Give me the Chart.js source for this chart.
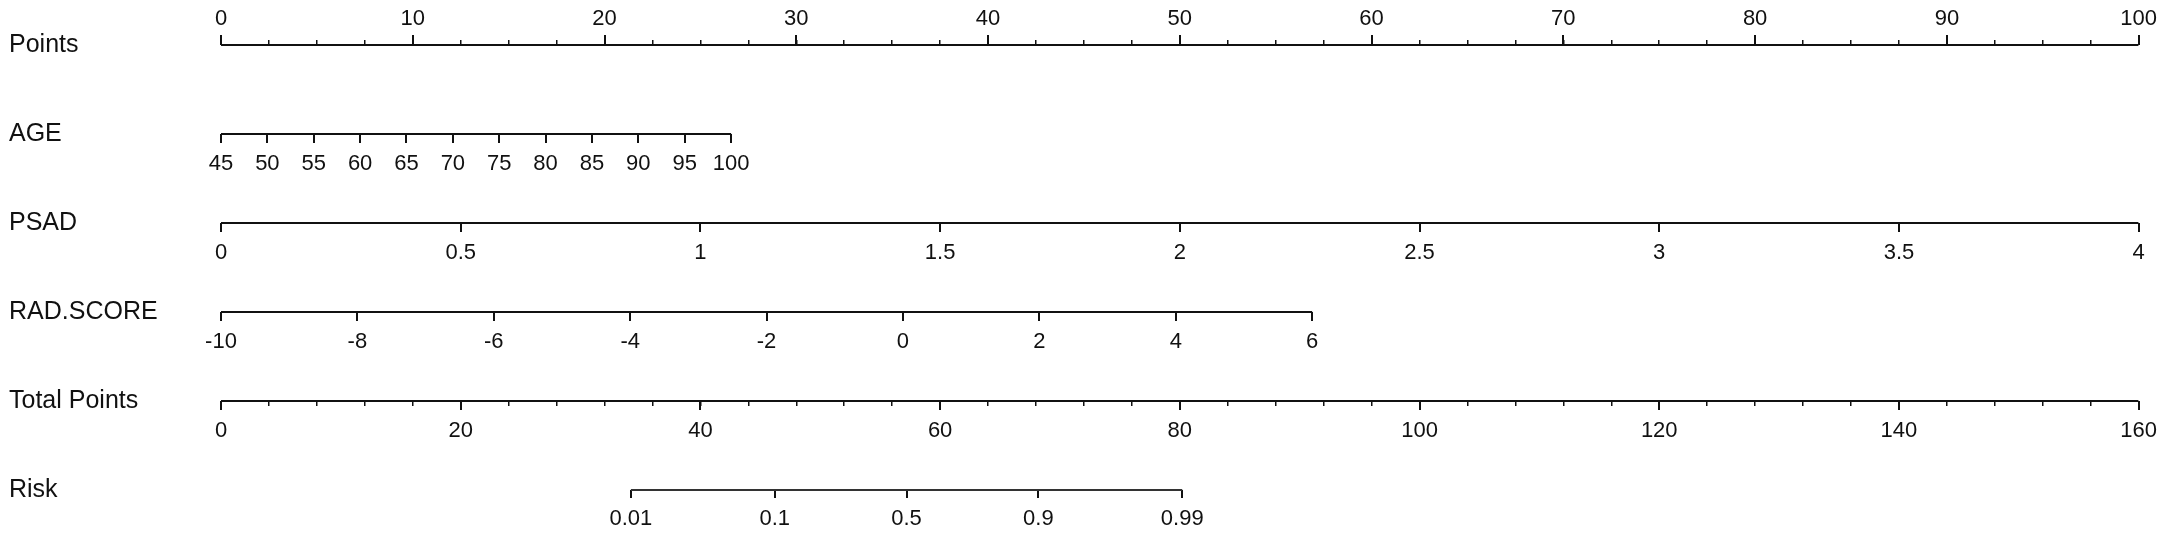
<!DOCTYPE html>
<html>
<head>
<meta charset="utf-8">
<script src="https://cdn.jsdelivr.net/npm/chart.js@4.4.1/dist/chart.umd.min.js"></script>
<style>
  html, body { margin: 0; padding: 0; background: #fff; }
  #wrap { width: 2165px; height: 537px; }
</style>
</head>
<body>
<div id="wrap"><canvas id="nomogram"></canvas></div>
<script>
const rowLabels = ['Points', 'AGE', 'PSAD', 'RAD.SCORE', 'Total Points', 'Risk'];

const pointsTicks = [0, 10, 20, 30, 40, 50, 60, 70, 80, 90, 100];
const ageTicks = [45, 50, 55, 60, 65, 70, 75, 80, 85, 90, 95, 100];
const psadTicks = [0, 0.5, 1, 1.5, 2, 2.5, 3, 3.5, 4];
const radTicks = [-10, -8, -6, -4, -2, 0, 2, 4, 6];
const totalTicks = [0, 20, 40, 60, 80, 100, 120, 140, 160];
const riskLabels = ['0.01', '0.1', '0.5', '0.9', '0.99'];
const riskTotalPoints = [34.2, 46.2, 57.2, 68.2, 80.2];

// points given to the top value of each predictor
const agePointsMax = 26.6;   // AGE 100
const psadPointsMax = 100;   // PSAD 4
const radPointsMax = 56.9;   // RAD.SCORE 6

const ink = '#111';
const family = "'Liberation Sans', Arial, sans-serif";

// small unlabeled ticks
const pointsMinor = [];
for (let v = 0; v <= 100; v += 2.5) pointsMinor.push(v);
const totalMinor = [];
for (let v = 0; v <= 160; v += 4) totalMinor.push(v);

// value that would sit at 100 points, so each row lines up with the Points scale
function axisMax(lo, hi, pts) {
  return lo + (hi - lo) * 100 / pts;
}

function rowAxis(row, min, max, ticks, opts = {}) {
  return {
    type: 'linear',
    axis: 'x',
    position: { y: row },
    min: min,
    max: max,
    afterBuildTicks: s => { s.ticks = ticks.map(v => ({ value: v })); },
    grid: {
      drawOnChartArea: false,
      drawTicks: true,
      tickLength: opts.tickLength ?? 9,
      color: ink,
      lineWidth: opts.tickWidth ?? 2,
    },
    border: { display: false },
    ticks: {
      display: opts.labels !== false,
      autoSkip: false,
      maxRotation: 0,
      minRotation: 0,
      padding: opts.padding ?? 8,
      color: ink,
      font: { family: family, size: 22 },
      callback: opts.callback || ((v, i) => String(ticks[i])),
    },
  };
}

const lines = [
  { id: 'xPoints', row: 0, from: 0, to: 100 },
  { id: 'xAge', row: 1, from: 45, to: 100 },
  { id: 'xPsad', row: 2, from: 0, to: 4 },
  { id: 'xRad', row: 3, from: -10, to: 6 },
  { id: 'xTotal', row: 4, from: 0, to: 160 },
  { id: 'xRisk', row: 5, from: riskTotalPoints[0], to: riskTotalPoints[riskTotalPoints.length - 1] },
];

const yMin = -0.2809, yMax = 5.3034;

new Chart(document.getElementById('nomogram').getContext('2d'), {
  type: 'scatter',
  data: {
    datasets: lines.map(l => ({
      data: [{ x: l.from, y: l.row }, { x: l.to, y: l.row }],
      xAxisID: l.id,
      yAxisID: 'y',
      showLine: true,
      borderColor: l.id === 'xRisk' ? '#333' : ink,
      borderWidth: 2,
      pointRadius: 0,
    })),
  },
  options: {
    responsive: true,
    maintainAspectRatio: false,
    animation: false,
    layout: { padding: { left: 9, right: 19, top: 20, bottom: 20 } },
    plugins: {
      legend: { display: false },
      tooltip: { enabled: false },
    },
    scales: {
      y: {
        type: 'linear',
        position: 'left',
        min: yMin,
        max: yMax,
        reverse: true,
        afterBuildTicks: s => { s.ticks = rowLabels.map((_, i) => ({ value: i })); },
        afterFit: s => { s.width = 212; },
        grid: { display: false },
        border: { display: false },
        ticks: {
          crossAlign: 'far',
          color: ink,
          font: { family: family, size: 25 },
          callback: (v, i) => rowLabels[i],
        },
      },
      xPointsMinor: rowAxis(0, 0, 100, pointsMinor, { tickLength: -5, tickWidth: 1.5, labels: false }),
      xPoints: rowAxis(0, 0, 100, pointsTicks, { tickLength: -10, padding: -29 }),
      xAge: rowAxis(1, 45, axisMax(45, 100, agePointsMax), ageTicks),
      xPsad: rowAxis(2, 0, axisMax(0, 4, psadPointsMax), psadTicks),
      xRad: rowAxis(3, -10, axisMax(-10, 6, radPointsMax), radTicks),
      xTotalMinor: rowAxis(4, 0, 160, totalMinor, { tickLength: 5, tickWidth: 1.5, labels: false }),
      xTotal: rowAxis(4, 0, 160, totalTicks),
      xRisk: rowAxis(5, 0, 160, riskTotalPoints, { tickLength: 8, callback: (v, i) => riskLabels[i] }),
    },
  },
});
</script>
</body>
</html>
